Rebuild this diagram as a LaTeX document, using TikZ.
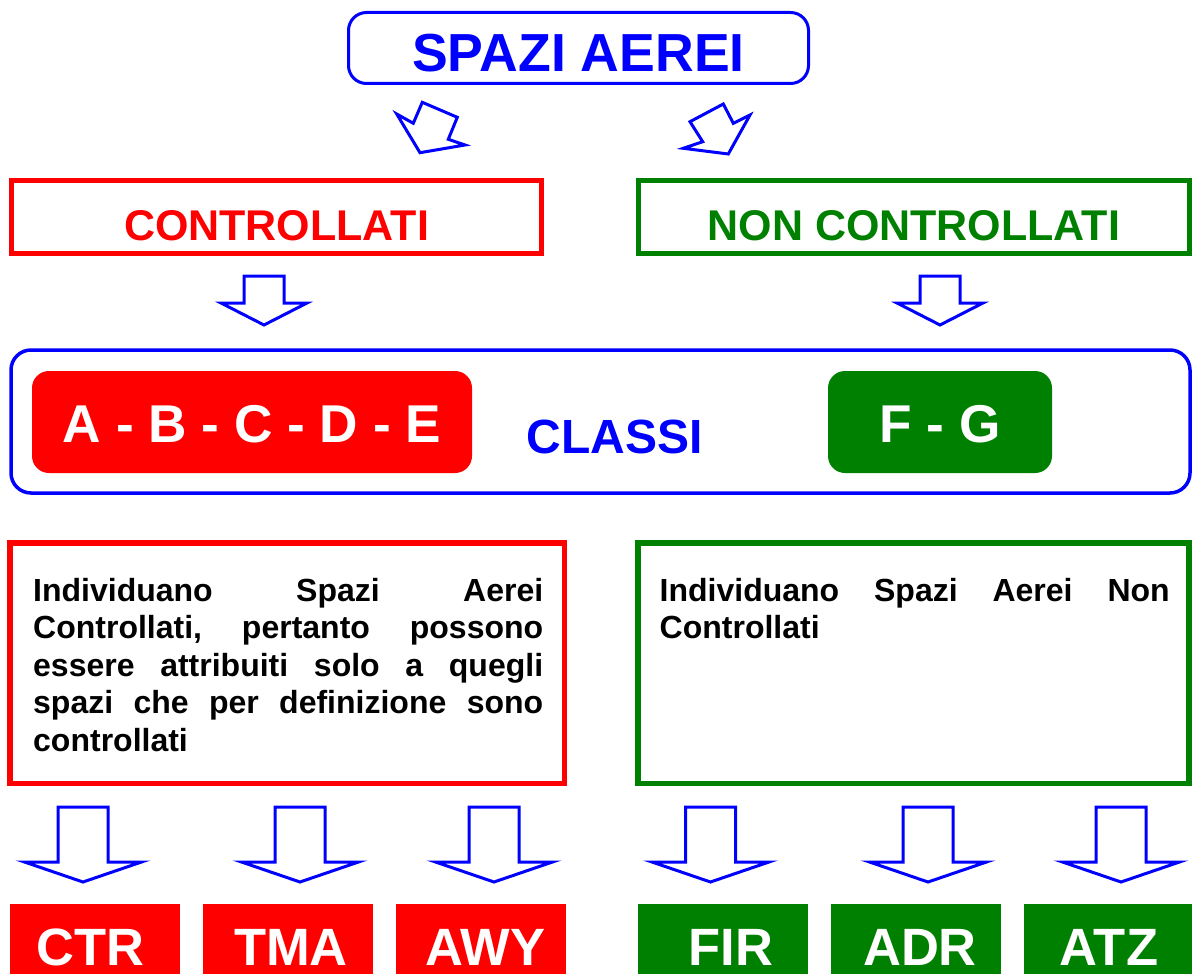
\documentclass[tikz,border=0pt]{standalone}
\usepackage{fontspec}
\setmainfont{Liberation Sans}
\definecolor{cred}{RGB}{255,0,0}
\definecolor{cgreen}{RGB}{0,128,0}
\definecolor{cblue}{RGB}{0,0,255}
\newcommand\myfs[1]{\fontsize{#1pt}{#1pt}\selectfont}
\newcommand\jline[1]{\leavevmode\hbox to 510pt{#1}}
\tikzset{
  outline/.style={draw, inner sep=0pt, outer sep=0pt},
  headbox/.style={outline, line width=5pt, minimum width=#1, minimum height=73pt,
    text height=46pt, text depth=0pt, font=\myfs{43}\bfseries},
  fillbox/.style={inner sep=0pt, outer sep=0pt, rounded corners=17pt, minimum height=102pt,
    minimum width=#1, text=white, text height=40pt, text depth=0pt, font=\myfs{53.2}\bfseries},
  textbox/.style={outline, line width=5.5pt, minimum height=240.5pt, minimum width=#1},
  bodytext/.style={anchor=north west, inner sep=0pt, text width=510pt, align=left,
    font=\fontsize{32pt}{37.5pt}\selectfont\bfseries},
  botbox/.style={inner sep=0pt, outer sep=0pt, fill=#1, minimum width=170.5pt,
    minimum height=96pt, text height=26pt, text depth=0pt, text=white, font=\myfs{52.5}\bfseries},
  arrowline/.style={draw=cblue, line width=3pt, line join=miter, fill=white},
  pics/blockdown/.style n args={4}{code={
    \path[arrowline] (-#1,0) -- (#1,0) -- (#1,#3) -- (#2,#3) -- (0,#3+#4)
      -- (-#2,#3) -- (-#1,#3) -- cycle;}}
}
\begin{document}
\begin{tikzpicture}[x=1pt,y=-1pt]
\useasboundingbox (0,0) rectangle (1192,974);

% title
\node[outline, draw=cblue, line width=3pt, rounded corners=18pt, minimum width=460pt,
  minimum height=71pt, text height=48pt, text depth=0pt, text=cblue,
  font=\myfs{53.6}\bfseries] (spazi) at (578.5,48) {SPAZI AEREI};

% tilted block arrows
\path[arrowline] (422.3,102.3) -- (457.3,117.3) -- (448.3,139.3) -- (465,145)
  -- (420,152.7) -- (396.7,114) -- (413.3,123.3) -- cycle;
\path[arrowline] (723.3,104) -- (733.3,123.3) -- (750,115) -- (728.3,154)
  -- (683.3,148.3) -- (702.7,141.7) -- (690,121.7) -- cycle;

% second level
\node[headbox=530pt, draw=cred, text=cred] (ctrl) at (276.5,217) {CONTROLLATI};
\node[headbox=550.5pt, draw=cgreen, text=cgreen] (nonctrl) at (913.75,217) {NON CONTROLLATI};

\pic at (264,276) {blockdown={20}{43}{27}{22}};
\pic at (940,276) {blockdown={20}{43}{27}{22}};

% classes
\node[outline, draw=cblue, line width=3.5pt, rounded corners=20pt, minimum width=1179pt,
  minimum height=143pt] (classi) at (600.5,421.5) {};
\node[fillbox=440pt, fill=cred] (abcde) at (252,422) {A - B - C - D - E};
\node[fillbox=224pt, fill=cgreen] (fg) at (940,422) {F - G};
\node[anchor=base, inner sep=0pt, text=cblue, font=\myfs{48}\bfseries] (classitxt)
  at (614.5,453) {CLASSI};

% descriptions
\node[textbox=554.5pt, draw=cred] (leftbox) at (287.25,663.25) {};
\node[textbox=551pt, draw=cgreen] (rightbox) at (913.5,663.25) {};
\node[bodytext] (lefttxt) at (33,574.75) {\strut\jline{Individuano\hfill Spazi\hfill Aerei}\\
  \jline{Controllati,\hfill pertanto\hfill possono}\\
  \jline{essere\hfill attribuiti\hfill solo\hfill a\hfill quegli}\\
  \jline{spazi\hfill che\hfill per\hfill definizione\hfill sono}\\
  controllati};
\node[bodytext] (righttxt) at (659.5,574.75) {\strut\jline{Individuano\hfill Spazi\hfill Aerei\hfill Non}\\
  Controllati};

% bottom arrows
\foreach \cx in {83,300,494,710.5,928,1121}
  \pic at (\cx,807) {blockdown={25}{58.5}{55}{20}};

% bottom boxes
\node[botbox=cred] (ctr) at (94.75,952) {CTR\hspace*{9pt}};
\node[botbox=cred] (tma) at (288,952) {\hspace*{6pt}TMA};
\node[botbox=cred] (awy) at (481,952) {\hspace*{9pt}AWY};
\node[botbox=cgreen] (fir) at (722.85,952) {\hspace*{16pt}FIR};
\node[botbox=cgreen] (adr) at (916,952) {\hspace*{8pt}ADR};
\node[botbox=cgreen] (atz) at (1109,952) {ATZ};
\end{tikzpicture}
\end{document}
